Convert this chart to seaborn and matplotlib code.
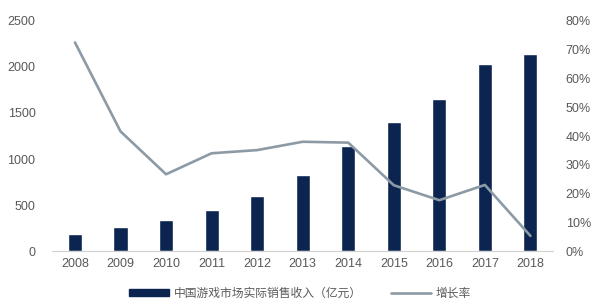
import matplotlib
matplotlib.use("Agg")
import matplotlib.pyplot as plt
import seaborn as sns
import pandas as pd
from matplotlib.patches import Patch
from matplotlib.lines import Line2D
from matplotlib.ticker import FuncFormatter

years = ["2008", "2009", "2010", "2011", "2012", "2013", "2014", "2015", "2016", "2017", "2018"]
revenue = [185.6, 262.8, 333.0, 446.1, 602.8, 831.7, 1144.8, 1407.0, 1655.7, 2036.1, 2144.4]
growth = [72.5, 41.6, 26.7, 34.0, 35.1, 38.0, 37.7, 22.9, 17.7, 23.0, 5.3]
bar_label = "中国游戏市场实际销售收入（亿元）"
line_label = "增长率"

df = pd.DataFrame({"year": years, "revenue": revenue, "growth": growth})

sns.set_style("white")
plt.rcParams["font.family"] = ["Liberation Sans", "Noto Sans CJK SC", "DejaVu Sans"]

bar_color = "#0B2550"
line_color = "#8C9AA6"
text_color = "#595959"

fig = plt.figure(figsize=(6.0, 3.07), dpi=100)
ax = fig.add_axes([0.087, 0.182, 0.835, 0.75])
sns.barplot(data=df, x="year", y="revenue", color=bar_color, width=0.31,
            saturation=1, ax=ax)
ax.set_ylim(0, 2500)
ax.set_yticks([0, 500, 1000, 1500, 2000, 2500])
ax.set_xlim(-0.5, len(years) - 0.5)
ax.set_xlabel("")
ax.set_ylabel("")

ax2 = ax.twinx()
sns.lineplot(x=list(range(len(years))), y=df["growth"], color=line_color,
             linewidth=1.9, ax=ax2, sort=False)
ax2.set_ylim(0, 80)
ax2.set_yticks([0, 10, 20, 30, 40, 50, 60, 70, 80])
ax2.yaxis.set_major_formatter(FuncFormatter(lambda v, p: f"{int(v)}%"))
ax2.set_ylabel("")

for a in (ax, ax2):
    for s in a.spines.values():
        s.set_visible(False)
    a.tick_params(length=0, labelsize=9, colors=text_color)
ax.spines["bottom"].set_visible(True)
ax.spines["bottom"].set_color("#D0D0D0")
ax.tick_params(axis="y", pad=12)
ax.tick_params(axis="x", pad=5)
ax2.tick_params(axis="y", pad=9)

handles = [Patch(facecolor=bar_color, edgecolor=bar_color),
           Line2D([0], [0], color=line_color, linewidth=1.9)]
leg = fig.legend(handles, [bar_label, line_label], loc="lower center",
                 bbox_to_anchor=(0.5, -0.01), ncol=2, frameon=False,
                 fontsize=8.5, handlelength=3.4, handleheight=0.5,
                 columnspacing=2.5, handletextpad=0.4)
for t in leg.get_texts():
    t.set_color(text_color)
    t.set_family(["Noto Sans CJK SC", "DejaVu Sans"])

fig.savefig("out.png", dpi=100)
